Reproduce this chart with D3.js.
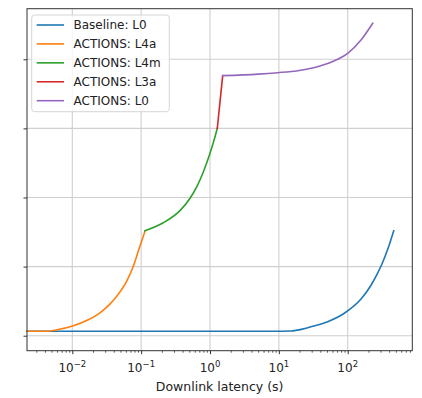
<!DOCTYPE html>
<html>
<head>
<meta charset="utf-8">
<script src="https://cdn.jsdelivr.net/npm/d3@7"></script>
<style>
  html, body { margin: 0; padding: 0; background: #ffffff; }
  svg { display: block; font-family: "DejaVu Sans", sans-serif; }
</style>
</head>
<body>
<svg id="chart" width="422" height="398"></svg>
<script>
// ---- data ----
const seriesNames = ["Baseline: L0", "ACTIONS: L4a", "ACTIONS: L4m", "ACTIONS: L3a", "ACTIONS: L0"];
const seriesColors = ["#1f77b4", "#ff7f0e", "#2ca02c", "#d62728", "#9467bd"];

// latency (s)
const baselineX = [0.0022, 1, 8, 15, 22, 29.3, 51.2, 89.3, 156, 218, 273, 312, 381, 466];
const baselineY = [0.064, 0.064, 0.064, 0.068, 0.095, 0.130, 0.203, 0.325, 0.530, 0.730, 0.910, 1.030, 1.250, 1.520];

const l4aX = [0.0022, 0.0043, 0.0060, 0.0101, 0.0170, 0.0252, 0.0442, 0.0617, 0.0769, 0.0910, 0.1138];
const l4aY = [0.064, 0.064, 0.085, 0.140, 0.230, 0.330, 0.570, 0.790, 1.005, 1.225, 1.515];

const l4mX = [0.1138, 0.210, 0.366, 0.513, 0.641, 0.800, 1.000, 1.183, 1.276];
const l4mY = [1.520, 1.635, 1.810, 1.990, 2.155, 2.370, 2.640, 2.880, 3.001];

const l3aX = [1.276, 1.528];
const l3aY = [3.001, 3.763];

const l0X = [1.528, 5.0, 9.62, 18.8, 36.6, 71.6, 100, 156, 231];
const l0Y = [3.763, 3.785, 3.806, 3.835, 3.893, 4.000, 4.087, 4.279, 4.521];

const xMajorTicks = [0.01, 0.1, 1, 10, 100];
const xTickExponents = ["\u22122", "\u22121", "0", "1", "2"];
const yTicks = [0, 1, 2, 3, 4];
const xLabel = "Downlink latency (s)";

// ---- layout ----
const svg = d3.select("#chart");
const pLeft = 27, pRight = 412.3, pTop = 8.7, pBottom = 350.7;

const x = d3.scaleLog().domain([0.002198, 867]).range([pLeft, pRight]);
const y = d3.scaleLinear().domain([-0.217, 4.732]).range([pBottom, pTop]);

// grid
const grid = svg.append("g");
grid.selectAll("line.vx").data(xMajorTicks).enter().append("line")
  .attr("x1", d => x(d)).attr("x2", d => x(d))
  .attr("y1", pTop).attr("y2", pBottom)
  .attr("stroke", "#cfcfcf").attr("stroke-width", 1.1);
grid.selectAll("line.hy").data(yTicks).enter().append("line")
  .attr("y1", d => y(d)).attr("y2", d => y(d))
  .attr("x1", pLeft).attr("x2", pRight)
  .attr("stroke", "#cfcfcf").attr("stroke-width", 1.1);

// series
const series = [
  [baselineX, baselineY],
  [l4aX, l4aY],
  [l4mX, l4mY],
  [l3aX, l3aY],
  [l0X, l0Y]
];
const line = d3.line().x(d => x(d[0])).y(d => y(d[1])).curve(d3.curveMonotoneX);
series.forEach((s, i) => {
  const pts = s[0].map((v, j) => [v, s[1][j]]);
  svg.append("path")
    .attr("d", line(pts))
    .attr("fill", "none")
    .attr("stroke", seriesColors[i])
    .attr("stroke-width", 1.6)
    .attr("stroke-linejoin", "round")
    .attr("stroke-linecap", "square");
});

// frame
svg.append("rect")
  .attr("x", pLeft).attr("y", pTop)
  .attr("width", pRight - pLeft).attr("height", pBottom - pTop)
  .attr("fill", "none").attr("stroke", "#333").attr("stroke-width", 1);

// x axis ticks
const xAxis = d3.axisBottom(x).tickValues(xMajorTicks).tickSize(3.5).tickFormat("");
const xg = svg.append("g").attr("transform", `translate(0,${pBottom})`).call(xAxis);
xg.select(".domain").remove();
xg.selectAll(".tick line").attr("stroke", "#333");

// minor ticks
const minor = [];
for (let e = -3; e <= 2; e++) {
  for (let m = 2; m <= 9; m++) {
    const v = m * Math.pow(10, e);
    if (v > x.domain()[0] && v < x.domain()[1]) minor.push(v);
  }
}
const xmg = svg.append("g").attr("transform", `translate(0,${pBottom})`)
  .call(d3.axisBottom(x).tickValues(minor).tickSize(2).tickFormat(""));
xmg.select(".domain").remove();
xmg.selectAll(".tick line").attr("stroke", "#333").attr("stroke-width", 0.8);

// x tick labels (10^n)
const lab = svg.append("g");
xMajorTicks.forEach((v, i) => {
  const t = lab.append("text")
    .attr("x", x(v)).attr("y", pBottom + 21.5)
    .attr("text-anchor", "middle")
    .attr("font-size", "12px").attr("fill", "#222");
  t.append("tspan").text("10");
  t.append("tspan").attr("dy", -5).attr("font-size", "8.5px").text(xTickExponents[i]);
});

// y axis ticks (no labels)
const yg = svg.append("g").attr("transform", `translate(${pLeft},0)`)
  .call(d3.axisLeft(y).tickValues(yTicks).tickSize(3.5).tickFormat(""));
yg.select(".domain").remove();
yg.selectAll(".tick line").attr("stroke", "#333");

// x label
svg.append("text")
  .attr("x", (pLeft + pRight) / 2).attr("y", 390.5)
  .attr("text-anchor", "middle")
  .attr("font-size", "12.5px").attr("fill", "#222")
  .text(xLabel);

// legend
const lg = svg.append("g");
lg.append("rect")
  .attr("x", 31.7).attr("y", 15).attr("width", 137.6).attr("height", 96.7)
  .attr("rx", 3).attr("ry", 3)
  .attr("fill", "#ffffff").attr("fill-opacity", 0.8)
  .attr("stroke", "#d6d6d6").attr("stroke-width", 1);
const rowY = d3.scaleLinear().domain([0, 4]).range([25, 100.7]);
seriesNames.forEach((name, i) => {
  lg.append("line")
    .attr("x1", 36.7).attr("x2", 64)
    .attr("y1", rowY(i)).attr("y2", rowY(i))
    .attr("stroke", seriesColors[i]).attr("stroke-width", 1.6);
  lg.append("text")
    .attr("x", 73.5).attr("y", rowY(i) + 4.3)
    .attr("font-size", "12px").attr("fill", "#222")
    .text(name);
});
</script>
</body>
</html>
